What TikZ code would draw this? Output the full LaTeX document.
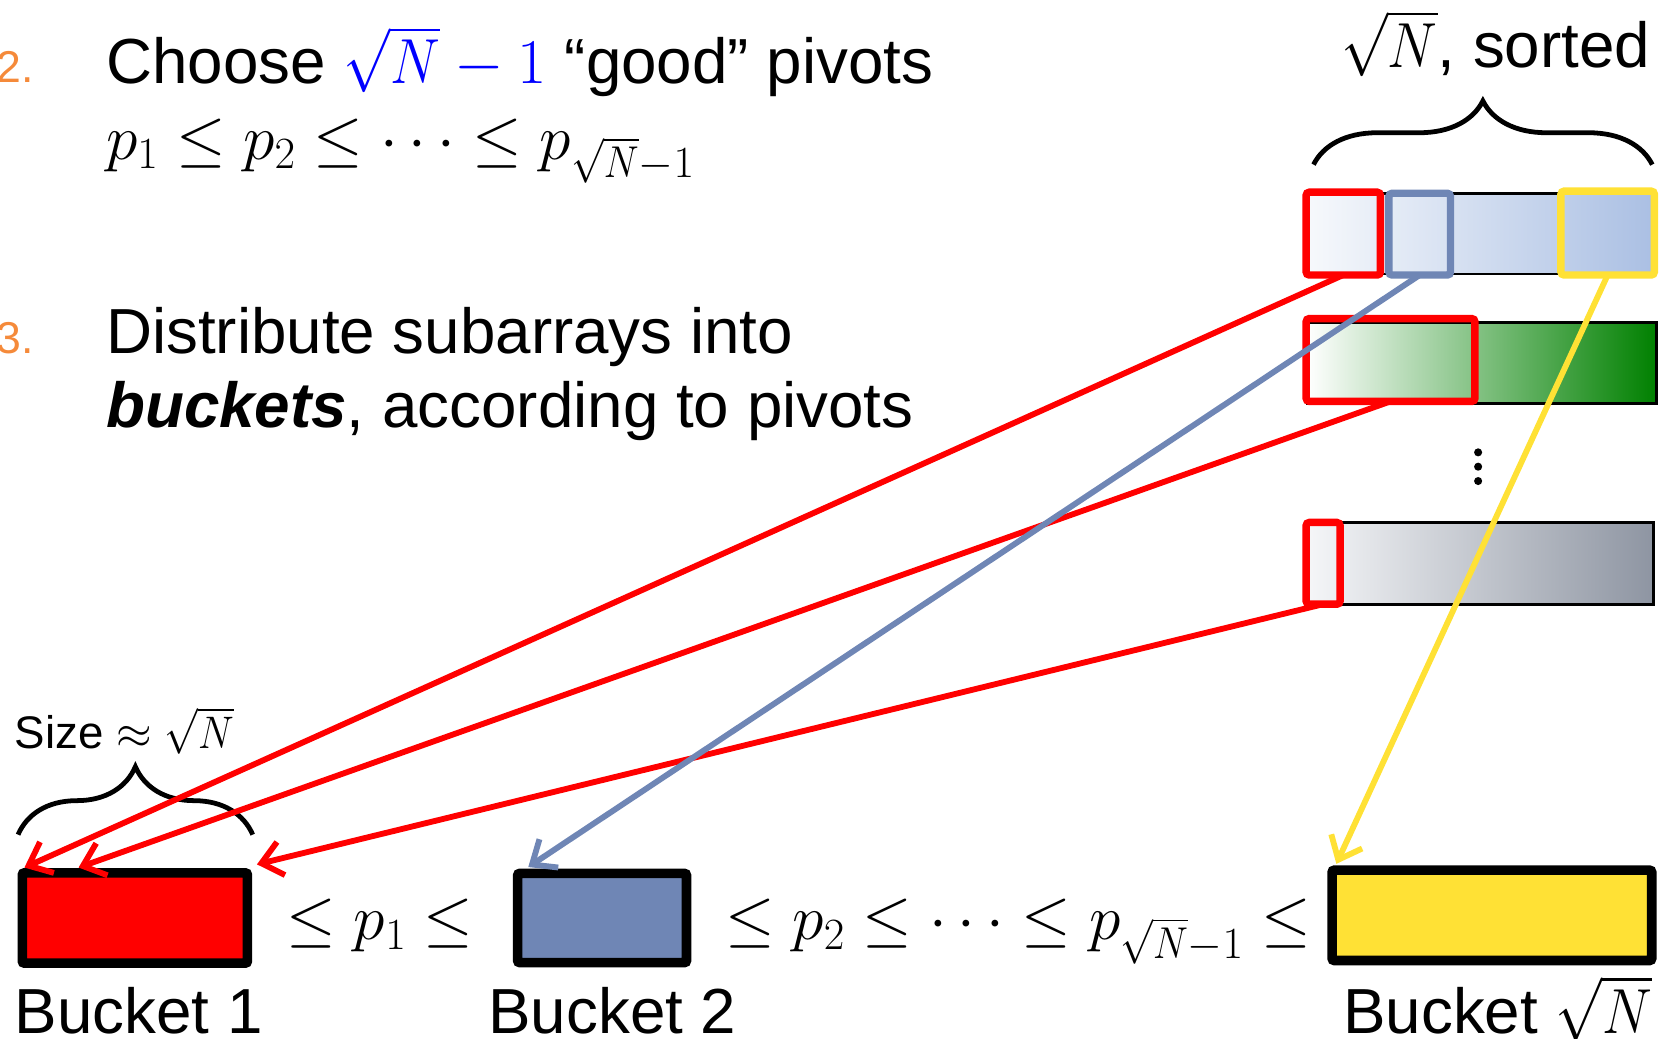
\documentclass[tikz,border=0pt]{standalone}
\usepackage{fix-cm}
\usepackage[no-math]{fontspec}
\setmainfont{Liberation Sans}
\usetikzlibrary{arrows.meta,decorations.pathreplacing,calc}
\definecolor{myred}{HTML}{FF0000}
\definecolor{myblue}{HTML}{6F86B5}
\definecolor{myyellow}{HTML}{FFE135}
\definecolor{myorange}{HTML}{F58A3A}
\definecolor{myblueL}{HTML}{F7F9FC}
\definecolor{myblueR}{HTML}{AABFE3}
\definecolor{mygreen}{HTML}{008000}
\definecolor{mygrayL}{HTML}{F5F6F8}
\definecolor{mygrayR}{HTML}{8E95A2}
\newcommand\szA{\fontsize{60}{72}\selectfont}
\newcommand\szB{\fontsize{42}{50}\selectfont}
\newcommand\szC{\fontsize{43}{52}\selectfont}
\newcommand\sqNaux[2]{\scalebox{0.88}[1]{$#1\sqrt{N}$}}
\newcommand\sqN{\mathpalette\sqNaux\relax}
\tikzset{
  txt/.style={anchor=base west, inner sep=0pt, outer sep=0pt, font=\szA},
  num/.style={anchor=base west, inner sep=0pt, outer sep=0pt, font=\szB, text=myorange},
  bucket/.style={draw=black, line width=9pt, rounded corners=2pt, anchor=north west, inner sep=0pt, outer sep=0pt},
  arow/.style={draw=black, line width=2.5pt, anchor=north west, inner sep=0pt, outer sep=0pt},
  hl/.style={line width=7pt, rounded corners=3pt, anchor=north west, inner sep=0pt, outer sep=0pt},
  conn/.style={line width=5.5pt, -{Straight Barb[length=19pt,width=32pt,line width=5.5pt]}},
  bracepath/.style={line width=4.5pt, decorate, decoration={brace, amplitude=#1}}
}
\begin{document}
\begin{tikzpicture}[x=1pt,y=-1pt]
\useasboundingbox (0,0) rectangle (1568,978);

% texts
\node[num] (n2) at (-3,78) {2.};
\node[txt] (t2) at (100,79) {Choose \textcolor{blue}{$\sqN-1$} “good” pivots};
\node[txt] (t2b) at (100,150) {$p_1\le p_2\le\cdots\le p_{\sqN-1}$};
\node[num] (n3) at (-3,333) {3.};
\node[txt] (t3) at (100,333) {Distribute subarrays into};
\node[txt] (t3b) at (100,403) {\textbf{\textit{buckets}}, according to pivots};
\node[txt] (sorted) at (1263,64) {$\sqN$, sorted};
\node[txt, font=\szC] (size) at (14,705) {Size $\approx\sqN$};

% braces
\coordinate (tbl) at (1237,155);
\coordinate (tbr) at (1556,155);
\draw[bracepath=60pt] (tbl) -- (tbr);
\coordinate (sbl) at (17,786);
\coordinate (sbr) at (238,786);
\draw[bracepath=64pt] (sbl) -- (sbr);

% array rows
\node[arow, minimum width=328pt, minimum height=76pt, left color=myblueL, right color=myblueR] (r1) at (1231,182) {};
\node[arow, minimum width=329pt, minimum height=76pt, left color=white, right color=mygreen] (r2) at (1231,304) {};
\node[arow, minimum width=326pt, minimum height=77pt, left color=mygrayL, right color=mygrayR] (r3) at (1231,492) {};

% highlights
\node[hl, draw=myred, minimum width=70pt, minimum height=78pt] (h1) at (1230,181) {};
\node[hl, draw=myblue, minimum width=58pt, minimum height=77pt] (hb) at (1308,182) {};
\node[hl, draw=myyellow, minimum width=88pt, minimum height=79pt] (hy) at (1470,180) {};
\node[hl, draw=myred, minimum width=159pt, minimum height=78pt] (h2) at (1230,300) {};
\node[hl, draw=myred, minimum width=32pt, minimum height=77pt] (h3) at (1230,492) {};

% dots
\fill (1392,426) circle (3.8pt);
\fill (1392,439.5) circle (3.8pt);
\fill (1392,453) circle (3.8pt);

% buckets
\node[bucket, fill=myred, minimum width=212pt, minimum height=85pt] (b1) at (21,822) {};
\node[bucket, fill=myblue, minimum width=159pt, minimum height=84pt] (b2) at (487.5,822.5) {};
\node[bucket, fill=myyellow, minimum width=301pt, minimum height=85pt] (b3) at (1254.5,819.5) {};

\node[txt] (ineq1) at (270,885) {$\le p_1\le$};
\node[txt] (ineq2) at (683,885) {$\le p_2\le\cdots\le p_{\sqN-1}\le$};
\node[txt] (lb1) at (14,973) {Bucket 1};
\node[txt] (lb2) at (460,973) {Bucket 2};
\node[txt] (lb3) at (1265,973) {Bucket $\sqN$};

% connectors
\draw[conn, myred] (h1.south) -- ([xshift=2pt,yshift=5pt]b1.north west);
\draw[conn, myred] (h2.south) -- ($(b1.north west)!0.25!(b1.north east)+(0,-5)$);
\draw[conn, myred] (h3.south) -- ([xshift=9pt,yshift=8pt]b1.north east);
\draw[conn, myblue] (hb.south) -- ([xshift=10pt,yshift=6pt]b2.north west);
\draw[conn, myyellow] (hy.south) -- ([xshift=4pt,yshift=6pt]b3.north west);
\end{tikzpicture}
\end{document}
